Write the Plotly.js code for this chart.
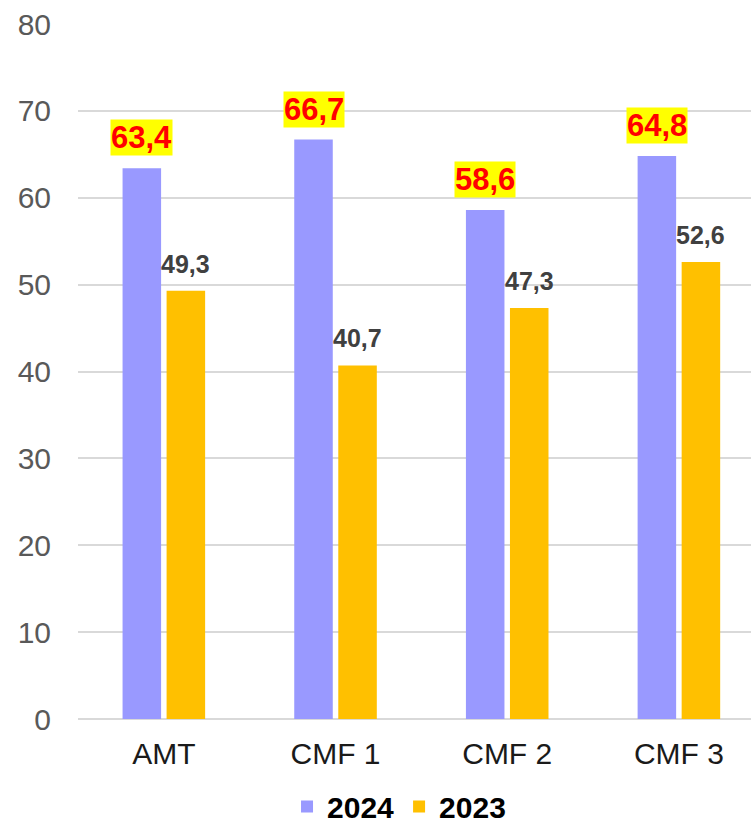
<!DOCTYPE html>
<html>
<head>
<meta charset="utf-8">
<script src="https://cdn.plot.ly/plotly-3.0.1.min.js"></script>
<style>
html,body{margin:0;padding:0;background:#fff;overflow:hidden;}
#chart{width:751px;height:824px;}
</style>
</head>
<body>
<div id="chart"></div>
<script>
const categories = ["AMT", "CMF 1", "CMF 2", "CMF 3"];
const values2024 = [63.4, 66.7, 58.6, 64.8];
const values2023 = [49.3, 40.7, 47.3, 52.6];
const seriesNames = ["2024", "2023"];
const yTicks = [0, 10, 20, 30, 40, 50, 60, 70, 80];

const fmt = v => v.toFixed(1).replace(".", ",");
const FONT = "Liberation Sans, Arial, sans-serif";
const BARGAP = 0.487;
const offset = (1 - BARGAP) / 4; // centre of each bar relative to group centre

const traces = [
  {type: "bar", name: seriesNames[0], x: categories, y: values2024,
   marker: {color: "#9999FF", line: {width: 0}}, hoverinfo: "x+y"},
  {type: "bar", name: seriesNames[1], x: categories, y: values2023,
   marker: {color: "#FFC000", line: {width: 0}}, hoverinfo: "x+y"}
];

const annotations = [];
categories.forEach((c, i) => {
  annotations.push({
    x: i - offset, y: values2024[i], xref: "x", yref: "y",
    text: fmt(values2024[i]), showarrow: false,
    yanchor: "bottom", xanchor: "center", yshift: 12,
    font: {family: FONT, size: 31, color: "#FF0000", weight: "bold"},
    bgcolor: "#FFFF00", borderpad: 0
  });
  annotations.push({
    x: i + offset, y: values2023[i], xref: "x", yref: "y",
    text: fmt(values2023[i]), showarrow: false,
    yanchor: "bottom", xanchor: "center", yshift: 11,
    font: {family: FONT, size: 25, color: "#404040", weight: "bold"}
  });
});

const layout = {
  width: 751, height: 824,
  margin: {l: 78, r: 0, t: 24, b: 105, autoexpand: false},
  paper_bgcolor: "#ffffff", plot_bgcolor: "#ffffff",
  barmode: "group", bargap: BARGAP, bargroupgap: 0.125,
  font: {family: FONT},
  xaxis: {
    type: "category", range: [-0.5, 3.42], automargin: false,
    showgrid: false, showline: false, zeroline: false,
    ticks: "", ticklabelstandoff: 14,
    tickfont: {family: FONT, size: 30, color: "#1a1a1a"}
  },
  yaxis: {
    range: [0, 80], tickvals: yTicks, ticktext: yTicks.map(String), automargin: false,
    showgrid: true, gridcolor: "#D9D9D9", gridwidth: 2,
    zeroline: true, zerolinecolor: "#D9D9D9", zerolinewidth: 2,
    showline: false, ticks: "", ticklabelstandoff: 26,
    tickfont: {family: FONT, size: 30, color: "#595959"}
  },
  showlegend: true,
  legend: {
    orientation: "h", x: 0.477, xanchor: "center", y: -0.126, yanchor: "middle",
    font: {family: FONT, size: 30, color: "#000000", weight: "bold"},
    bgcolor: "rgba(0,0,0,0)", traceorder: "normal", borderwidth: 0
  },
  annotations: annotations
};

Plotly.newPlot("chart", traces, layout, {displayModeBar: false, staticPlot: true});
</script>
</body>
</html>
